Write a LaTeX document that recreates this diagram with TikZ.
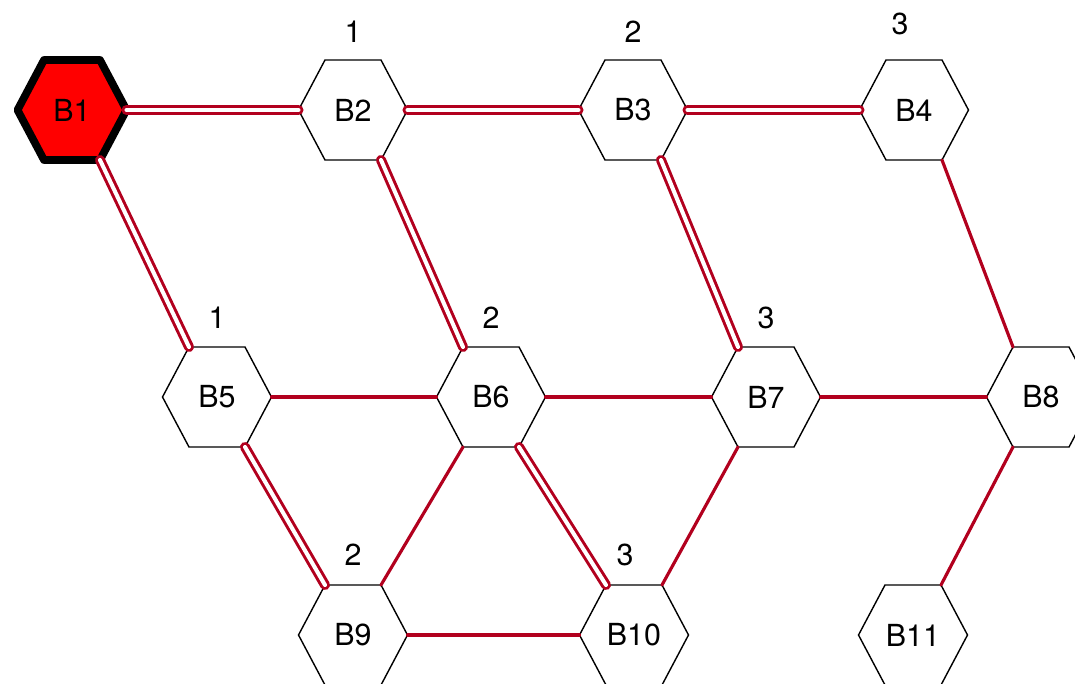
\documentclass[tikz,border=0pt]{standalone}
\usepackage{fontspec}
\setmainfont{TeX Gyre Heros}
\usepackage{tikz}
\usetikzlibrary{positioning}
\definecolor{edgered}{RGB}{178,0,30}
\definecolor{hotred}{RGB}{255,0,0}
% hexagon: name, centre, text, style
\newcommand{\hexa}[4][hexline]{%
	\draw[#1,shift={(#3)}] (-54.5,0) coordinate (#2-l) --++(26.5,-50) coordinate (#2-tl) --++(56,0) coordinate (#2-tr)
	--++(26.5,50) coordinate (#2-r) --++(-26.5,50) coordinate (#2-br) --++(-56,0) coordinate (#2-bl) -- cycle;
	\node[lbl] (#2-t) at (#3) {#4};}

\begin{document}
\begin{tikzpicture}[x=0.02cm,y=-0.02cm,
		hexline/.style={draw=black,line width=0.8pt,line join=miter},
		rootline/.style={draw=black,fill=hotred,line width=4.4pt,line join=round},
		lbl/.style={inner sep=0pt,font=\fontsize{17.3}{20}\selectfont},
		dbl/.style={draw=edgered,line width=1.7pt,double=white,double distance=2.3pt,line cap=round},
		plainedge/.style={draw=edgered,line width=1.8pt,line cap=round}]
					\useasboundingbox (0,0) rectangle (1075,683);
					\hexa[rootline]{B1}{72,110}{B1}
					\hexa{B2}{353,110}{B2}
					\hexa{B3}{633,110}{B3}
					\hexa{B4}{914,110}{B4}
					\hexa{B5}{217,397}{B5}
					\hexa{B6}{491,397}{B6}
					\hexa{B7}{766,397}{B7}
					\hexa{B8}{1041,397}{B8}
					\hexa{B9}{353,635}{B9}
					\hexa{B10}{634,635}{B10}
					\hexa{B11}{913,635}{B11}
					\foreach \a/\b in {B1-r/B2-l,B2-r/B3-l,B3-r/B4-l,B1-br/B5-tl,B2-br/B6-tl,B3-br/B7-tl,B5-br/B9-tl,B6-br/B10-tl}
						\draw[dbl] (\a)--(\b);
					\foreach \a/\b in {B4-br/B8-tl,B5-r/B6-l,B6-r/B7-l,B7-r/B8-l,B6-bl/B9-tr,B7-bl/B10-tr,B8-bl/B11-tr,B9-r/B10-l}
						\draw[plainedge] (\a)--(\b);
					\node[lbl] (n2) at (353,32) {1};
					\node[lbl] (n3) at (633,32) {2};
					\node[lbl] (n4) at (900,24) {3};
					\node[lbl] (n5) at (217,318) {1};
					\node[lbl] (n6) at (491,318) {2};
					\node[lbl] (n7) at (766,318) {3};
					\node[lbl] (n9) at (353,555) {2};
					\node[lbl] (n10) at (625,555) {3};
		\end{tikzpicture}
\end{document}
